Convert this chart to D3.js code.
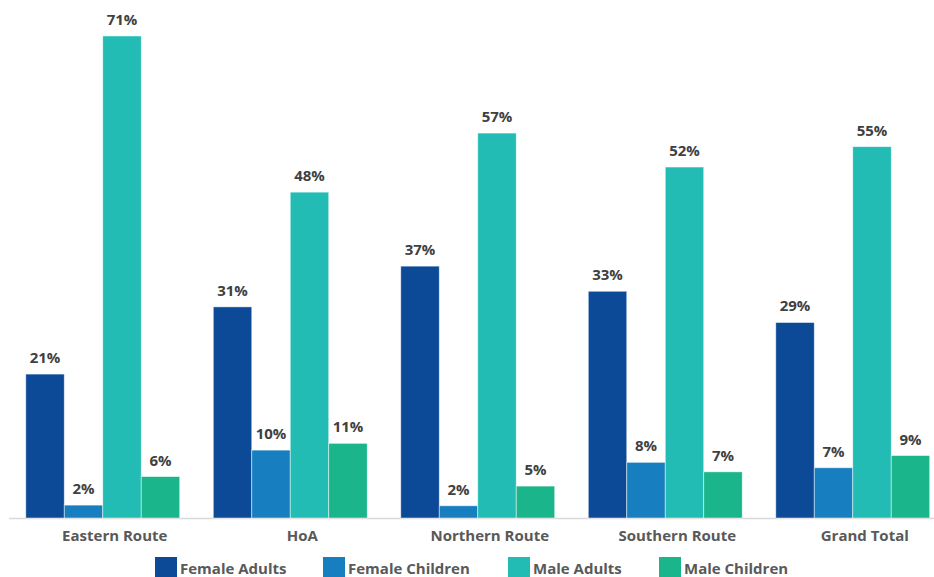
<!DOCTYPE html>
<html>
<head>
<meta charset="utf-8">
<script src="https://cdn.jsdelivr.net/npm/d3@7"></script>
<style>
html,body{margin:0;padding:0;background:#fff;}
svg{display:block;font-family:"Open Sans",sans-serif;}
</style>
</head>
<body>
<svg id="chart" width="934" height="577"></svg>
<script>
const categories = ["Eastern Route", "HoA", "Northern Route", "Southern Route", "Grand Total"];
const seriesNames = ["Female Adults", "Female Children", "Male Adults", "Male Children"];
const femaleAdults = [21.2, 31.1, 37.1, 33.4, 28.8];
const femaleChildren = [1.9, 10.0, 1.8, 8.2, 7.4];
const maleAdults = [71.0, 48.0, 56.7, 51.7, 54.7];
const maleChildren = [6.1, 11.0, 4.7, 6.8, 9.2];
const colors = ["#0c4a98", "#177fbf", "#22bcb5", "#1ab58a"];

const seriesValues = [femaleAdults, femaleChildren, maleAdults, maleChildren];
const data = categories.map((c, i) => ({
  category: c,
  values: seriesNames.map((s, j) => ({ series: s, value: seriesValues[j][i] }))
}));

const svg = d3.select("#chart");
const baseY = 518;

const x0 = d3.scaleBand().domain(categories).range([9, 946.5]).paddingInner(0.179).paddingOuter(0.0895);
const x1 = d3.scaleBand().domain(seriesNames).range([0, x0.bandwidth()]).padding(0);
const y = d3.scaleLinear().domain([0, 71]).range([baseY, 36]);
const color = d3.scaleOrdinal().domain(seriesNames).range(colors);

// axis baseline
svg.append("line")
  .attr("x1", 9).attr("x2", 934)
  .attr("y1", baseY + 0.5).attr("y2", baseY + 0.5)
  .attr("stroke", "#d9d9d9").attr("stroke-width", 1.5);

const groups = svg.selectAll("g.grp").data(data).enter().append("g")
  .attr("class", "grp")
  .attr("transform", d => `translate(${x0(d.category)},0)`);

groups.selectAll("rect").data(d => d.values).enter().append("rect")
  .attr("x", d => x1(d.series))
  .attr("y", d => y(d.value))
  .attr("width", x1.bandwidth())
  .attr("height", d => baseY - y(d.value))
  .attr("fill", d => color(d.series))
  .attr("stroke", "#ffffff")
  .attr("stroke-opacity", 0.6)
  .attr("stroke-width", 0.8);

groups.selectAll("text.val").data(d => d.values).enter().append("text")
  .attr("class", "val")
  .attr("x", d => x1(d.series) + x1.bandwidth() / 2)
  .attr("y", d => y(d.value) - 11)
  .attr("text-anchor", "middle")
  .attr("font-size", "15px")
  .attr("font-weight", "bold")
  .attr("fill", "#404040")
  .text(d => Math.round(d.value) + "%");

// category axis labels
const xAxis = d3.axisBottom(x0).tickSize(0).tickPadding(0);
const axisG = svg.append("g").attr("transform", `translate(12,${baseY})`).call(xAxis);
axisG.select(".domain").remove();
axisG.selectAll("text")
  .attr("dy", null)
  .attr("y", 23)
  .attr("font-family", "Open Sans, sans-serif")
  .attr("font-size", "15px")
  .attr("font-weight", "bold")
  .attr("fill", "#595959");

// legend
const legendX = [155, 323, 508, 659];
const legend = svg.selectAll("g.leg").data(seriesNames).enter().append("g")
  .attr("class", "leg")
  .attr("transform", (d, i) => `translate(${legendX[i]},557)`);
legend.append("rect")
  .attr("width", 22).attr("height", 22)
  .attr("fill", d => color(d));
legend.append("text")
  .attr("x", 25).attr("y", 16.5)
  .attr("font-size", "15px")
  .attr("font-weight", "bold")
  .attr("fill", "#595959")
  .text(d => d);
</script>
</body>
</html>
